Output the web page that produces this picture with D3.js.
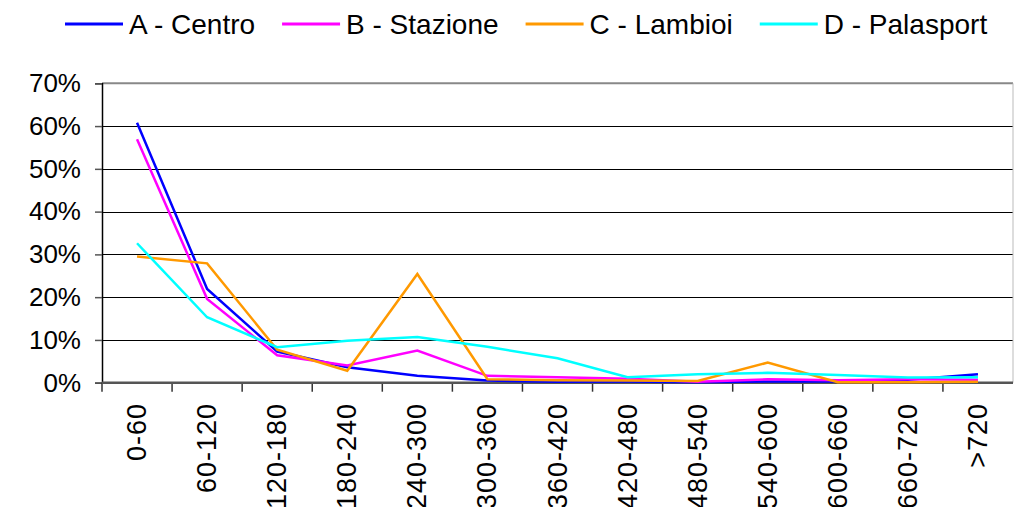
<!DOCTYPE html>
<html>
<head>
<meta charset="utf-8">
<script src="https://cdn.jsdelivr.net/npm/d3@7"></script>
<style>
  body { margin: 0; background: #fff; }
  text { font-family: "Liberation Sans", Arial, sans-serif; fill: #000; }
</style>
</head>
<body>
<svg id="chart" width="1014" height="507"></svg>
<script>
// Classi di durata (minuti)
const categories = ['0-60', '60-120', '120-180', '180-240', '240-300', '300-360', '360-420',
  '420-480', '480-540', '540-600', '600-660', '660-720', '>720'];

// Serie (quota sul totale)
const centro    = [0.608, 0.219, 0.073, 0.036, 0.016, 0.005, 0.002, 0.003, 0.001, 0.003, 0.003, 0.007, 0.020];
const stazione  = [0.569, 0.196, 0.064, 0.040, 0.075, 0.016, 0.013, 0.009, 0.002, 0.008, 0.006, 0.008, 0.007];
const lambioi   = [0.295, 0.279, 0.077, 0.028, 0.254, 0.008, 0.006, 0.005, 0.004, 0.047, 0.001, 0.001, 0.002];
const palasport = [0.326, 0.153, 0.083, 0.098, 0.107, 0.084, 0.057, 0.013, 0.020, 0.023, 0.018, 0.012, 0.013];

const seriesNames = ['A - Centro', 'B - Stazione', 'C - Lambioi', 'D - Palasport'];
const seriesColors = ['#0000ff', '#ff00ff', '#ff9900', '#00ffff'];
const yTicks = [0, 0.1, 0.2, 0.3, 0.4, 0.5, 0.6, 0.7];

const series = [centro, stazione, lambioi, palasport];

const svg = d3.select('#chart');

// Area del grafico
const plotLeft = 102, plotRight = 1013, plotTop = 83.3, plotBottom = 382.7;

const x = d3.scaleBand().domain(categories).range([plotLeft, plotRight]).padding(0);
const y = d3.scaleLinear().domain([0, 0.7]).range([plotBottom, plotTop]);

// Griglia orizzontale
svg.append('g')
  .selectAll('line')
  .data(yTicks.filter(t => t > 0 && t < 0.7))
  .join('line')
  .attr('x1', plotLeft).attr('x2', plotRight)
  .attr('y1', d => Math.round(y(d)) + 0.5).attr('y2', d => Math.round(y(d)) + 0.5)
  .attr('stroke', '#000').attr('stroke-width', 1);

// Bordo superiore e destro
svg.append('line')
  .attr('x1', plotLeft).attr('x2', plotRight)
  .attr('y1', y(0.7)).attr('y2', y(0.7))
  .attr('stroke', '#888').attr('stroke-width', 2);
svg.append('line')
  .attr('x1', plotRight).attr('x2', plotRight)
  .attr('y1', plotTop).attr('y2', plotBottom)
  .attr('stroke', '#bbb').attr('stroke-width', 1);

// Asse Y
const yAxis = d3.axisLeft(y)
  .tickValues(yTicks)
  .tickFormat(d3.format('.0%'))
  .tickSize(7)
  .tickPadding(14);
const gy = svg.append('g').attr('transform', `translate(${plotLeft},0)`).call(yAxis);
gy.select('.domain').attr('stroke', '#000').attr('stroke-width', 1.5);
gy.selectAll('.tick line').attr('stroke', '#555').attr('stroke-width', 1.5);
gy.selectAll('.tick text')
  .attr('font-size', 26)
  .style('font-family', '"Liberation Sans", Arial, sans-serif');

// Asse X: tacche ai bordi delle classi
svg.append('g')
  .selectAll('line')
  .data(categories)
  .join('line')
  .attr('x1', d => x(d)).attr('x2', d => x(d))
  .attr('y1', plotBottom).attr('y2', plotBottom + 9)
  .attr('stroke', '#333').attr('stroke-width', 1.5);
svg.append('line')
  .attr('x1', plotLeft).attr('x2', plotRight)
  .attr('y1', plotBottom).attr('y2', plotBottom)
  .attr('stroke', '#555').attr('stroke-width', 2.5);

// Etichette X ruotate
svg.append('g')
  .selectAll('text')
  .data(categories)
  .join('text')
  .attr('transform', d => `translate(${x(d) + x.bandwidth() / 2 + 9},403) rotate(-90)`)
  .attr('text-anchor', 'end')
  .attr('font-size', 27)
  .attr('letter-spacing', 1)
  .text(d => d);

// Linee delle serie
const line = d3.line()
  .x((d, i) => x(categories[i]) + x.bandwidth() / 2)
  .y(d => y(d));

svg.append('g')
  .selectAll('path')
  .data(series)
  .join('path')
  .attr('d', d => line(d))
  .attr('fill', 'none')
  .attr('stroke', (d, i) => seriesColors[i])
  .attr('stroke-width', 2.5)
  .attr('stroke-linejoin', 'miter');

// Legenda
const legend = svg.append('g').attr('transform', 'translate(65,24)');
let lx = 0;
seriesNames.forEach((name, i) => {
  const item = legend.append('g').attr('transform', `translate(${lx},0)`);
  item.append('line')
    .attr('x1', 0).attr('x2', 58)
    .attr('y1', 0).attr('y2', 0)
    .attr('stroke', seriesColors[i]).attr('stroke-width', 3);
  const t = item.append('text')
    .attr('x', 64).attr('y', 10)
    .attr('font-size', 28)
    .text(name);
  lx += 64 + t.node().getComputedTextLength() + 27;
});
</script>
</body>
</html>
